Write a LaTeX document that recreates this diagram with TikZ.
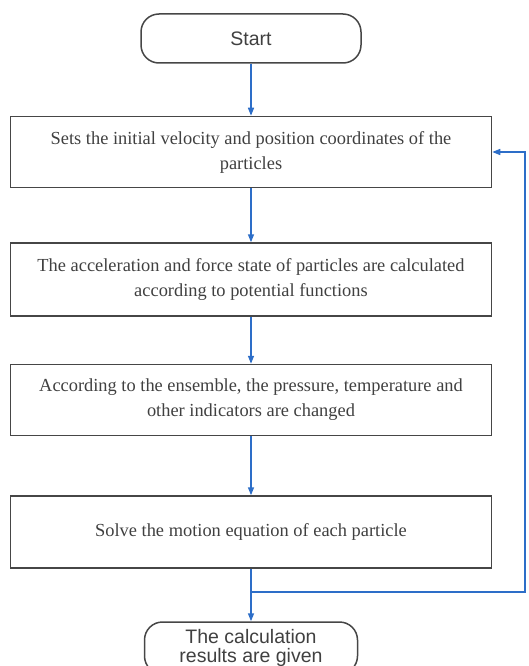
\documentclass[tikz,border=0pt]{standalone}
\usepackage{fontspec}
\setmainfont{Liberation Serif}
\setsansfont{Liberation Sans}
\usetikzlibrary{arrows.meta}
\definecolor{flowblue}{RGB}{45,110,200}
\definecolor{boxgray}{RGB}{70,70,70}

\begin{document}
\begin{tikzpicture}[x=1pt, y=-1pt,
  procbox/.style={draw=boxgray, line width=1.5pt, minimum width=481pt, minimum height=71pt,
    align=center, inner sep=0pt, font=\fontsize{18.4}{25}\selectfont, text=black!75},
  termbox/.style={draw=boxgray, line width=1.5pt, rounded corners=18pt, align=center, inner sep=0pt,
    font=\sffamily\fontsize{19.5}{19}\selectfont, text=black!75},
  flow/.style={draw=flowblue, line width=1.5pt, -{Triangle[length=8pt,width=6pt]}}]
  \useasboundingbox (0,0) rectangle (528,666);
  \clip (0,0) rectangle (528,666);
  \node [termbox, minimum width=220pt, minimum height=49pt] (start) at (251,38.5) {Start};
  \node [procbox] (init) at (251,152) {Sets the initial velocity and position coordinates of the\\particles};
  \node [procbox, minimum height=73pt] (force) at (251,279.5) {The acceleration and force state of particles are calculated\\according to potential functions};
  \node [procbox] (ensemble) at (251,400) {According to the ensemble, the pressure, temperature and\\other indicators are changed};
  \node [procbox, minimum height=72pt] (solve) at (251,532) {Solve the motion equation of each particle};
  \node [termbox, minimum width=213pt, minimum height=52pt] (result) at (251,648) {The calculation\\results are given};
  \coordinate (split) at (251,592);
  \coordinate (right) at (525,592);
  \draw [flow] (start) -- (init);
  \draw [flow] (init) -- (force);
  \draw [flow] (force) -- (ensemble);
  \draw [flow] (ensemble) -- (solve);
  \draw [flow] (solve) -- (result);
  \draw [flow] (split) -- (right) |- (init.east);
\end{tikzpicture}
\end{document}
